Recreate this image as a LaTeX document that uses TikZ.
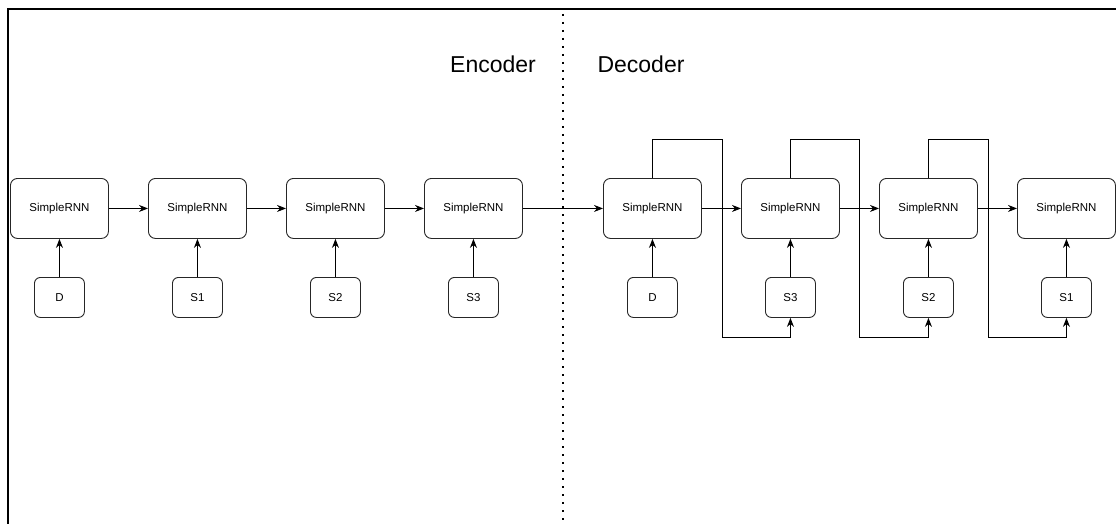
\documentclass[tikz,border=0pt]{standalone}
\usepackage{fontspec}
\setmainfont{Liberation Sans}
\usetikzlibrary{arrows.meta}
\begin{document}
\begin{tikzpicture}[x=1pt,y=-1pt,
  rnn/.style={draw=black!85,line width=0.9pt,rounded corners=7pt,minimum width=98pt,minimum height=60pt,inner sep=0pt,font=\fontsize{11.5}{13}\selectfont,anchor=north west},
  inp/.style={draw=black!85,line width=0.9pt,rounded corners=6pt,minimum width=50pt,minimum height=40pt,inner sep=0pt,font=\fontsize{11.5}{13}\selectfont,anchor=north west},
  arr/.style={draw=black,line width=0.9pt,-{Stealth[length=9pt,width=7pt]}},
  title/.style={font=\fontsize{23}{26}\selectfont,inner sep=0pt}]
\useasboundingbox (0,0) rectangle (1116,524);
\draw[line width=2pt] (8,524) -- (8,9) -- (1116,9);
\draw[line width=1.6pt,dash pattern=on 1.8pt off 6.2pt] (563,14) -- (563,524);
\node[title] (enc) at (493,64) {Encoder};
\node[title] (dec) at (641,64) {Decoder};
% encoder
\node[rnn] (e1) at (10,178) {SimpleRNN};
\node[rnn] (e2) at (148,178) {SimpleRNN};
\node[rnn] (e3) at (286,178) {SimpleRNN};
\node[rnn] (e4) at (424,178) {SimpleRNN};
\node[inp] (ie1) at (34,277) {D};
\node[inp] (ie2) at (172,277) {S1};
\node[inp] (ie3) at (310,277) {S2};
\node[inp] (ie4) at (448,277) {S3};
% decoder
\node[rnn] (d1) at (603,178) {SimpleRNN};
\node[rnn] (d2) at (741,178) {SimpleRNN};
\node[rnn] (d3) at (879,178) {SimpleRNN};
\node[rnn] (d4) at (1017,178) {SimpleRNN};
\node[inp] (id1) at (627,277) {D};
\node[inp] (id2) at (765,277) {S3};
\node[inp] (id3) at (903,277) {S2};
\node[inp] (id4) at (1041,277) {S1};
% horizontal chain
\draw[arr] (e1) -- (e2);
\draw[arr] (e2) -- (e3);
\draw[arr] (e3) -- (e4);
\draw[arr] (e4) -- (d1);
\draw[arr] (d1) -- (d2);
\draw[arr] (d2) -- (d3);
\draw[arr] (d3) -- (d4);
% inputs
\foreach \i in {1,2,3,4}{
  \draw[arr] (ie\i.north) -- (e\i.south);
  \draw[arr] (id\i.north) -- (d\i.south);
}
% feedback
\coordinate (fa1) at (722,139); \coordinate (fb1) at (722,337);
\coordinate (fa2) at (859,139); \coordinate (fb2) at (859,337);
\coordinate (fa3) at (988,139); \coordinate (fb3) at (988,337);
\draw[arr] (d1.north) |- (fa1) -- (fb1) -| (id2.south);
\draw[arr] (d2.north) |- (fa2) -- (fb2) -| (id3.south);
\draw[arr] (d3.north) |- (fa3) -- (fb3) -| (id4.south);
\end{tikzpicture}
\end{document}
